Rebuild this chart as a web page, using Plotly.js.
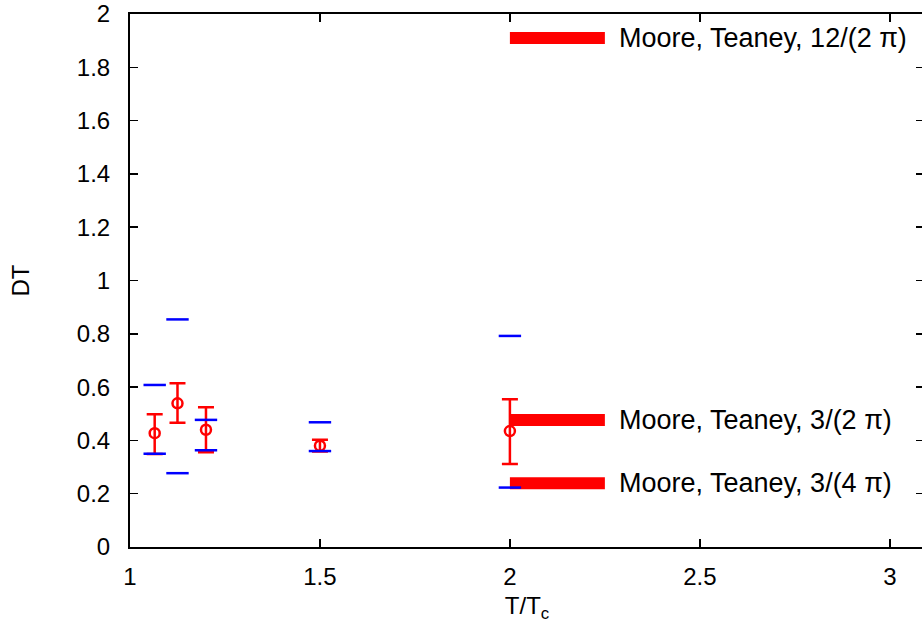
<!DOCTYPE html>
<html>
<head>
<meta charset="utf-8">
<script src="https://cdn.plot.ly/plotly-3.0.1.min.js"></script>
<style>
html,body{margin:0;padding:0;overflow:hidden;background:#fff;}
#chart{width:940px;height:635px;}
</style>
</head>
<body>
<div id="chart"></div>
<script>
// Lattice data points (red, with error bars)
const tempRatio = [1.065, 1.125, 1.2, 1.5, 2.0];
const dtValues  = [0.427, 0.539, 0.440, 0.380, 0.435];
const errPlus   = [0.071, 0.075, 0.084, 0.022, 0.119];
const errMinus  = [0.078, 0.073, 0.084, 0.022, 0.124];

// Blue bounds (dashes)
const blueUpper = [0.608, 0.854, 0.477, 0.468, 0.792];
const blueLower = [0.350, 0.277, 0.363, 0.360, 0.223];

// Moore & Teaney reference levels
const mtLabels = ["Moore, Teaney, 12/(2 \u03c0)", "Moore, Teaney, 3/(2 \u03c0)", "Moore, Teaney, 3/(4 \u03c0)"];
const mtValues = [1.91, 0.477, 0.239];
const mtXRange = [2.0, 2.25];
const labelX = 2.283;

const xTicks = [1, 1.5, 2, 2.5, 3];
const yTicks = [0, 0.2, 0.4, 0.6, 0.8, 1, 1.2, 1.4, 1.6, 1.8, 2];

const RED = '#ff0000';
const BLUE = '#0000ff';
const FONT = 'Liberation Sans, Arial, Helvetica, sans-serif';

const traces = [];

mtValues.forEach((v, i) => {
  traces.push({
    x: mtXRange, y: [v, v],
    mode: 'lines', type: 'scatter',
    line: {color: RED, width: 12},
    hoverinfo: 'skip', showlegend: false
  });
});

traces.push({
  x: tempRatio, y: dtValues,
  mode: 'markers', type: 'scatter',
  marker: {symbol: 'circle-open', size: 10, color: RED, line: {color: RED, width: 2.5}},
  error_y: {type: 'data', symmetric: false, array: errPlus, arrayminus: errMinus,
            color: RED, thickness: 2.5, width: 8},
  showlegend: false
});

traces.push({
  x: tempRatio, y: blueUpper,
  mode: 'markers', type: 'scatter',
  marker: {symbol: 'line-ew', size: 16, color: BLUE, line: {color: BLUE, width: 2.5}},
  showlegend: false
});
traces.push({
  x: tempRatio, y: blueLower,
  mode: 'markers', type: 'scatter',
  marker: {symbol: 'line-ew', size: 16, color: BLUE, line: {color: BLUE, width: 2.5}},
  showlegend: false
});

const annotations = mtLabels.map((t, i) => ({
  x: labelX, y: mtValues[i], xref: 'x', yref: 'y',
  text: t, showarrow: false, xanchor: 'left', yanchor: 'middle',
  font: {family: FONT, size: 27, color: '#000'}
}));

const layout = {
  width: 940, height: 635,
  margin: {l: 130, r: 16, t: 14, b: 88},
  paper_bgcolor: '#fff', plot_bgcolor: '#fff',
  font: {family: FONT, size: 24, color: '#000'},
  xaxis: {
    range: [1, 3.09], tickvals: xTicks, ticktext: xTicks.map(String),
    ticks: 'inside', ticklen: 8, tickwidth: 1.5, tickcolor: '#000',
    showline: true, linewidth: 2, linecolor: '#000', mirror: 'ticks',
    showgrid: false, zeroline: false,
    tickfont: {family: FONT, size: 24},
    ticklabelstandoff: 7,
    title: {text: 'T/T<sub>c</sub>', font: {family: FONT, size: 24}, standoff: 8}
  },
  yaxis: {
    range: [0, 2], tickvals: yTicks, ticktext: yTicks.map(String),
    ticks: 'inside', ticklen: 8, tickwidth: 1.5, tickcolor: '#000',
    showline: true, linewidth: 2, linecolor: '#000', mirror: 'ticks',
    showgrid: false, zeroline: false,
    tickfont: {family: FONT, size: 24},
    ticklabelstandoff: 13,
    title: {text: 'DT', font: {family: FONT, size: 24}, standoff: 40}
  },
  annotations: annotations,
  showlegend: false
};

Plotly.newPlot('chart', traces, layout, {displayModeBar: false, staticPlot: true});
</script>
</body>
</html>
